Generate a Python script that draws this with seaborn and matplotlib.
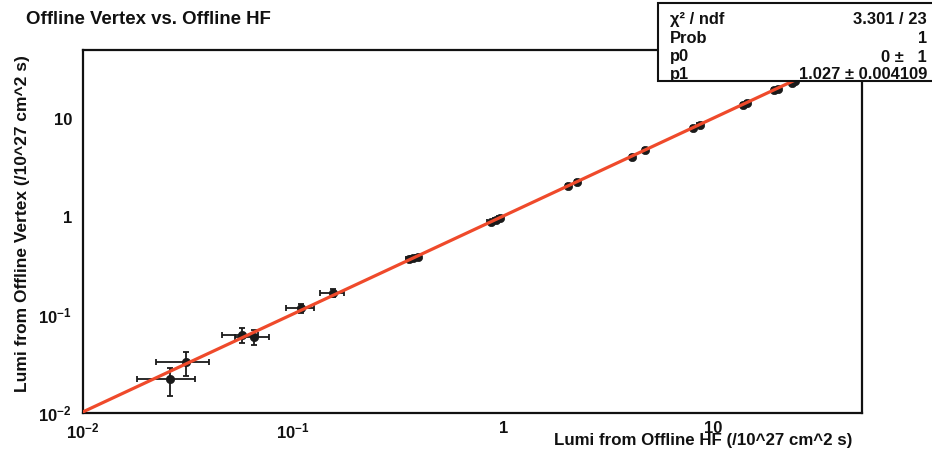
import numpy as np
import pandas as pd
import matplotlib
matplotlib.use("Agg")
import matplotlib.pyplot as plt
import seaborn as sns
from matplotlib.patches import Rectangle
from matplotlib.ticker import FixedLocator, LogLocator, NullFormatter

# Luminosity measured by the HF method and by the vertex method (10^27 cm^-2 s^-1)
hf_lumi = [0.026, 0.031, 0.057, 0.065, 0.109, 0.155,
           0.355, 0.372, 0.392, 0.87, 0.92, 0.965,
           2.04, 2.25, 4.1, 4.75, 8.0, 8.6,
           13.9, 14.4, 19.5, 20.3, 23.6, 24.5]
hf_err = [0.008, 0.0087, 0.011, 0.012, 0.017, 0.02,
          0.012, 0.012, 0.012, 0.03, 0.03, 0.03,
          0.06, 0.06, 0.1, 0.1, 0.2, 0.2,
          0.3, 0.3, 0.4, 0.4, 0.5, 0.5]
vtx_lumi = [0.022, 0.033, 0.063, 0.060, 0.118, 0.168,
            0.37, 0.385, 0.395, 0.89, 0.94, 0.97,
            2.10, 2.28, 4.15, 4.85, 8.1, 8.7,
            14.1, 14.6, 19.8, 20.6, 23.5, 24.6]
vtx_err = [0.007, 0.009, 0.011, 0.011, 0.013, 0.015,
           0.015, 0.015, 0.015, 0.03, 0.03, 0.03,
           0.06, 0.06, 0.1, 0.1, 0.2, 0.2,
           0.3, 0.3, 0.4, 0.4, 0.5, 0.5]

# Linear fit result y = p0 + p1 * x
p0, p0_err = 0.0, 1.0
p1, p1_err = 1.027, 0.004109
chi2, ndf, prob = 3.301, 23, 1

major_ticks = [0.01, 0.1, 1, 10]
major_labels = ["$10^{-2}$", "$10^{-1}$", "1", "10"]
axis_max = 51.0

sns.set_style("white")
plt.rcParams["font.family"] = ["Liberation Sans", "DejaVu Sans"]
plt.rcParams["font.weight"] = "bold"
plt.rcParams["mathtext.fontset"] = "custom"
plt.rcParams["mathtext.rm"] = "Liberation Sans:bold"
plt.rcParams["mathtext.bf"] = "Liberation Sans:bold"
plt.rcParams["mathtext.default"] = "rm"

W, H = 932, 455
fig = plt.figure(figsize=(W / 100, H / 100), dpi=100)
fig.patch.set_facecolor("white")

L, R, B, T = 83, 862, 413, 50
ax = fig.add_axes([L / W, 1 - B / H, (R - L) / W, (B - T) / H])
ax.set_facecolor("white")
ax.set_xscale("log")
ax.set_yscale("log")
ax.set_xlim(0.01, axis_max)
ax.set_ylim(0.01, axis_max)

df = pd.DataFrame({"hf": hf_lumi, "vtx": vtx_lumi,
                   "hf_err": hf_err, "vtx_err": vtx_err})

ax.errorbar(df["hf"], df["vtx"], xerr=df["hf_err"], yerr=df["vtx_err"],
            fmt="none", ecolor="#1a1a1a", elinewidth=1.3, capsize=2.5,
            capthick=1.3, zorder=3)
sns.scatterplot(data=df, x="hf", y="vtx", color="#1a1a1a", s=36,
                edgecolor="#1a1a1a", linewidth=0.5, zorder=4, ax=ax,
                legend=False)

xs = np.logspace(-2, np.log10(axis_max), 300)
fit = pd.DataFrame({"x": xs, "y": p0 + p1 * xs})
sns.lineplot(data=fit, x="x", y="y", color="#ef4a2b", linewidth=2.3,
             zorder=5, ax=ax, legend=False)

# ROOT-like frame and inward ticks
for side in ["left", "bottom", "right", "top"]:
    ax.spines[side].set_visible(True)
    ax.spines[side].set_color("#111111")
    ax.spines[side].set_linewidth(1.6)

for axis in (ax.xaxis, ax.yaxis):
    axis.set_major_locator(FixedLocator(major_ticks))
    axis.set_minor_locator(LogLocator(base=10, subs=np.arange(2, 10), numticks=20))
    axis.set_minor_formatter(NullFormatter())
ax.set_xticklabels(major_labels)
ax.set_yticklabels(major_labels)

ax.tick_params(axis="x", which="major", direction="in", length=8, width=1.0,
               color="#111111", labelsize=12, pad=6, labelcolor="#111111")
ax.tick_params(axis="x", which="minor", direction="in", length=4, width=1.0,
               color="#111111")
ax.tick_params(axis="y", which="major", direction="in", length=16.5, width=1.0,
               color="#111111", labelsize=12, pad=8, labelcolor="#111111")
ax.tick_params(axis="y", which="minor", direction="in", length=8, width=1.0,
               color="#111111")
ax.tick_params(top=False, right=False)

ax.set_xlabel("Lumi from Offline HF (/10^27 cm^2 s)", loc="right",
              fontsize=12.2, fontweight="bold", color="#111111")
ax.xaxis.set_label_coords((852 - L) / (R - L), (B - 433) / (B - T))
ax.set_ylabel("Lumi from Offline Vertex (/10^27 cm^2 s)", loc="top",
              fontsize=12.5, fontweight="bold", color="#111111")
ax.yaxis.set_label_coords((30 - L) / (R - L), (B - 55) / (B - T))

fig.text(26 / W, 1 - 19 / H, "Offline Vertex vs. Offline HF",
         ha="left", va="center", fontsize=13.4, fontweight="bold",
         color="#111111")

# Fit statistics box
box_l, box_t, box_b = 658, 3, 81
fig.add_artist(Rectangle((box_l / W, 1 - box_b / H), (W - box_l) / W + 0.01,
                         (box_b - box_t) / H, transform=fig.transFigure,
                         facecolor="white", edgecolor="#111111",
                         linewidth=1.5, zorder=10))
rows = [
    ("χ² / ndf", f"{chi2:.3f} / {ndf}"),
    ("Prob", f"{prob}"),
    ("p0", f"{p0:g} ±   {p0_err:g}"),
    ("p1", f"{p1:.3f} ± {p1_err:.6f}"),
]
baselines = [24, 43, 61.5, 79]
for (name, value), yb in zip(rows, baselines):
    fig.text(670 / W, 1 - yb / H, name, ha="left", va="baseline",
             fontsize=11.9, fontweight="bold", color="#111111", zorder=11)
    fig.text(927 / W, 1 - yb / H, value, ha="right", va="baseline",
             fontsize=11.9, fontweight="bold", color="#111111", zorder=11)

fig.savefig("out.png", dpi=100, facecolor="white")
